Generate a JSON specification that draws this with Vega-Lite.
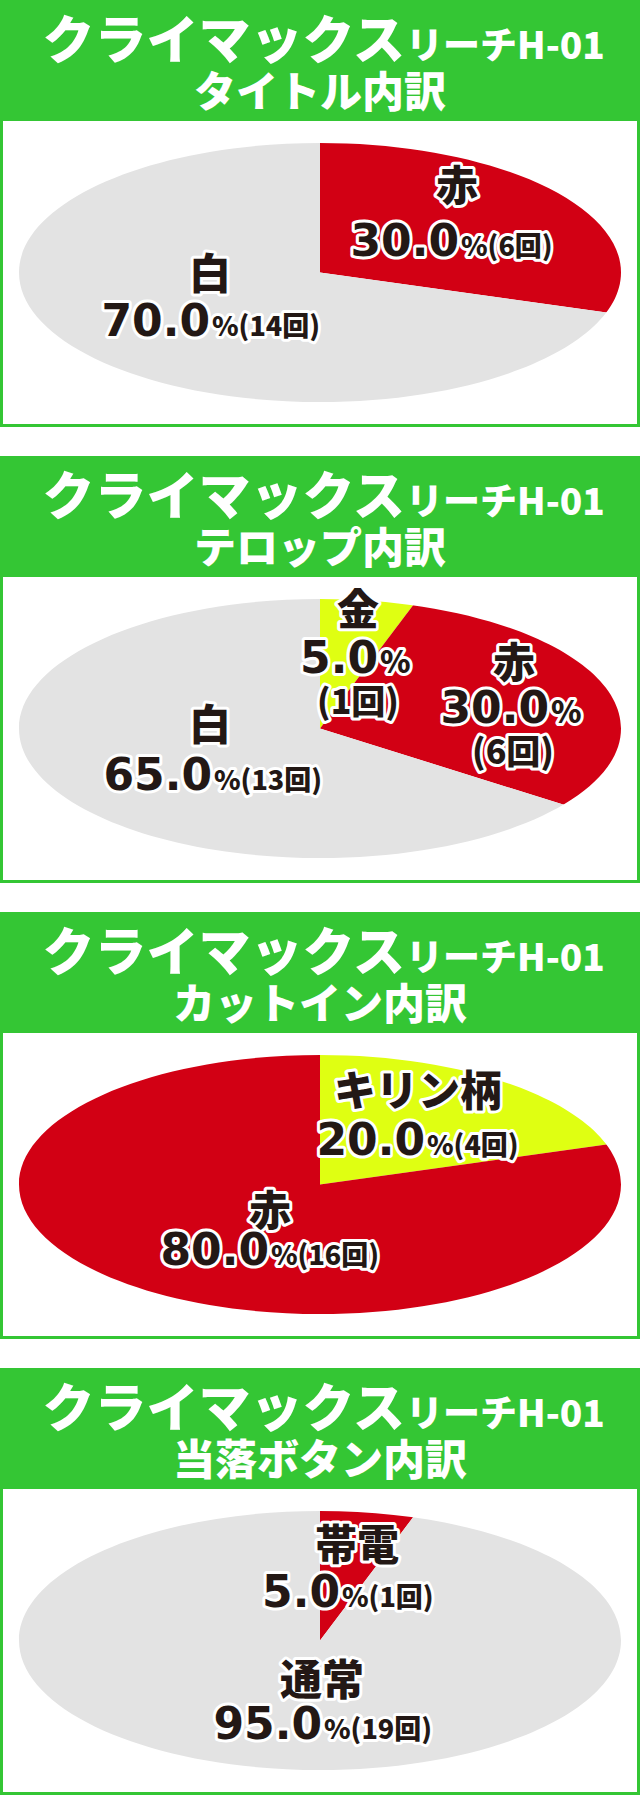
{
  "$schema": "https://vega.github.io/schema/vega-lite/v6.json",
  "padding": 0,
  "background": "white",
  "config": {"view": {"stroke": null}},
  "datasets": {
    "タイトル": [
      {"名前": "赤", "回数": 6, "割合": 30, "後": "%(6回)"},
      {"名前": "白", "回数": 14, "割合": 70, "後": "%(14回)"}
    ],
    "テロップ": [
      {"名前": "金", "回数": 1, "割合": 5, "後": "%", "下": "(1回)"},
      {"名前": "赤", "回数": 6, "割合": 30, "後": "%", "下": "(6回)"},
      {"名前": "白", "回数": 13, "割合": 65, "後": "%(13回)"}
    ],
    "カットイン": [
      {"名前": "キリン柄", "回数": 4, "割合": 20, "後": "%(4回)"},
      {"名前": "赤", "回数": 16, "割合": 80, "後": "%(16回)"}
    ],
    "当落ボタン": [
      {"名前": "帯電", "回数": 1, "割合": 5, "後": "%(1回)"},
      {"名前": "通常", "回数": 19, "割合": 95, "後": "%(19回)"}
    ]
  },
  "spacing": 29,
  "vconcat": [
    {"spacing": 0, "vconcat": [
      {"width": 640, "height": 118, "view": {"fill": "#34c634", "stroke": null},
       "data": {"values": [{"大": "クライマックス", "小": "リーチH-01", "下": "タイトル内訳"}]},
       "layer": [
        {"mark": {"type": "text", "font": "Noto Sans CJK JP", "fontSize": 52, "fontWeight": 900, "align": "right", "baseline": "alphabetic", "fill": "white", "dx": 85, "dy": 0}, "encoding": {"text": {"field": "大"}}},
        {"mark": {"type": "text", "font": "Noto Sans CJK JP", "fontSize": 37, "fontWeight": 900, "align": "left", "baseline": "alphabetic", "fill": "white", "dx": 86, "dy": 0}, "encoding": {"text": {"field": "小"}}},
        {"mark": {"type": "text", "font": "Noto Sans CJK JP", "fontSize": 42, "fontWeight": 900, "align": "center", "baseline": "alphabetic", "fill": "white", "dx": 0, "dy": 48}, "encoding": {"text": {"field": "下"}}}
       ]},
      {"width": 640, "height": 309, "data": {"name": "タイトル"},
       "layer": [
        {"mark": {"type": "arc", "radius": 320, "clip": true},
         "encoding": {
          "theta": {"field": "回数", "type": "quantitative", "stack": true, "scale": {"type": "linear", "domain": [0,1,2,3,4,5,6,7,8,9,10,11,12,13,14,15,16,17,18,19,20], "range": [0,0.6468,1.036,1.2678,1.4319,1.5708,1.7097,1.8738,2.1056,2.4948,3.1416,3.7884,4.1776,4.4094,4.5735,4.7124,4.8513,5.0154,5.2472,5.6364,6.2832]}},
          "color": {"field": "名前", "type": "nominal", "legend": null, "scale": {"domain": ["赤","白","金","キリン柄","帯電","通常"], "range": ["#d20014","#e3e3e3","#dfff12","#dfff12","#d20014","#e3e3e3"]}},
          "order": {"field": "回数", "type": "quantitative", "sort": "ascending"}
         }},
        {"transform": [{"aggregate": [{"op": "count", "as": "n"}]}],
         "layer": [
          {"mark": {"type": "point", "shape": "M-317,-151.5H317V151.5H-317ZM-301,0A301,129.5 0 1 0 301,0A301,129.5 0 1 0 -301,0Z", "size": 4, "filled": true, "fill": "white", "color": "white", "opacity": 1, "strokeWidth": 0}},
          {"mark": {"type": "point", "shape": "M-320,-154.5H320V154.5H-320ZM-317,-151.5V151.5H317V-151.5Z", "size": 4, "filled": true, "fill": "#34c634", "color": "#34c634", "opacity": 1, "strokeWidth": 0}}
         ]},
        {"transform": [{"filter": {"field": "名前", "equal": "白"}}], "layer": [
          {"encoding": {"text": {"field": "名前"}}, "layer": [
            {"mark": {"type": "text", "font": "Noto Sans CJK JP", "fontSize": 42, "fontWeight": 900, "align": "center", "baseline": "alphabetic", "dx": -110, "dy": 16.5, "fill": "white", "stroke": "white", "strokeWidth": 6, "strokeJoin": "round"}},
            {"mark": {"type": "text", "font": "Noto Sans CJK JP", "fontSize": 42, "fontWeight": 900, "align": "center", "baseline": "alphabetic", "dx": -110, "dy": 16.5, "fill": "#231815"}}]},
          {"encoding": {"text": {"field": "割合", "type": "quantitative", "format": ".1f"}}, "layer": [
            {"mark": {"type": "text", "font": "DejaVu Sans", "fontSize": 44, "fontWeight": "bold", "align": "right", "baseline": "alphabetic", "dx": -110, "dy": 63.5, "fill": "white", "stroke": "white", "strokeWidth": 6, "strokeJoin": "round"}},
            {"mark": {"type": "text", "font": "DejaVu Sans", "fontSize": 44, "fontWeight": "bold", "align": "right", "baseline": "alphabetic", "dx": -110, "dy": 63.5, "fill": "#231815"}}]},
          {"encoding": {"text": {"field": "後"}}, "layer": [
            {"mark": {"type": "text", "font": "Noto Sans CJK JP", "fontSize": 27, "fontWeight": 900, "align": "left", "baseline": "alphabetic", "dx": -108, "dy": 63.5, "fill": "white", "stroke": "white", "strokeWidth": 6, "strokeJoin": "round"}},
            {"mark": {"type": "text", "font": "Noto Sans CJK JP", "fontSize": 27, "fontWeight": 900, "align": "left", "baseline": "alphabetic", "dx": -108, "dy": 63.5, "fill": "#231815"}}]}
        ]},
        {"transform": [{"filter": {"field": "名前", "equal": "赤"}}], "layer": [
          {"encoding": {"text": {"field": "名前"}}, "layer": [
            {"mark": {"type": "text", "font": "Noto Sans CJK JP", "fontSize": 42, "fontWeight": 900, "align": "center", "baseline": "alphabetic", "dx": 137, "dy": -71.5, "fill": "white", "stroke": "white", "strokeWidth": 6, "strokeJoin": "round"}},
            {"mark": {"type": "text", "font": "Noto Sans CJK JP", "fontSize": 42, "fontWeight": 900, "align": "center", "baseline": "alphabetic", "dx": 137, "dy": -71.5, "fill": "#231815"}}]},
          {"encoding": {"text": {"field": "割合", "type": "quantitative", "format": ".1f"}}, "layer": [
            {"mark": {"type": "text", "font": "DejaVu Sans", "fontSize": 44, "fontWeight": "bold", "align": "right", "baseline": "alphabetic", "dx": 139, "dy": -16.5, "fill": "white", "stroke": "white", "strokeWidth": 6, "strokeJoin": "round"}},
            {"mark": {"type": "text", "font": "DejaVu Sans", "fontSize": 44, "fontWeight": "bold", "align": "right", "baseline": "alphabetic", "dx": 139, "dy": -16.5, "fill": "#231815"}}]},
          {"encoding": {"text": {"field": "後"}}, "layer": [
            {"mark": {"type": "text", "font": "Noto Sans CJK JP", "fontSize": 27, "fontWeight": 900, "align": "left", "baseline": "alphabetic", "dx": 141, "dy": -16.5, "fill": "white", "stroke": "white", "strokeWidth": 6, "strokeJoin": "round"}},
            {"mark": {"type": "text", "font": "Noto Sans CJK JP", "fontSize": 27, "fontWeight": 900, "align": "left", "baseline": "alphabetic", "dx": 141, "dy": -16.5, "fill": "#231815"}}]}
        ]}
       ]}
    ]},
    {"spacing": 0, "vconcat": [
      {"width": 640, "height": 118, "view": {"fill": "#34c634", "stroke": null},
       "data": {"values": [{"大": "クライマックス", "小": "リーチH-01", "下": "テロップ内訳"}]},
       "layer": [
        {"mark": {"type": "text", "font": "Noto Sans CJK JP", "fontSize": 52, "fontWeight": 900, "align": "right", "baseline": "alphabetic", "fill": "white", "dx": 85, "dy": 0}, "encoding": {"text": {"field": "大"}}},
        {"mark": {"type": "text", "font": "Noto Sans CJK JP", "fontSize": 37, "fontWeight": 900, "align": "left", "baseline": "alphabetic", "fill": "white", "dx": 86, "dy": 0}, "encoding": {"text": {"field": "小"}}},
        {"mark": {"type": "text", "font": "Noto Sans CJK JP", "fontSize": 42, "fontWeight": 900, "align": "center", "baseline": "alphabetic", "fill": "white", "dx": 0, "dy": 48}, "encoding": {"text": {"field": "下"}}}
       ]},
      {"width": 640, "height": 309, "data": {"name": "テロップ"},
       "layer": [
        {"mark": {"type": "arc", "radius": 320, "clip": true},
         "encoding": {
          "theta": {"field": "回数", "type": "quantitative", "stack": true, "scale": {"type": "linear", "domain": [0,1,2,3,4,5,6,7,8,9,10,11,12,13,14,15,16,17,18,19,20], "range": [0,0.6468,1.036,1.2678,1.4319,1.5708,1.7097,1.8738,2.1056,2.4948,3.1416,3.7884,4.1776,4.4094,4.5735,4.7124,4.8513,5.0154,5.2472,5.6364,6.2832]}},
          "color": {"field": "名前", "type": "nominal", "legend": null, "scale": {"domain": ["赤","白","金","キリン柄","帯電","通常"], "range": ["#d20014","#e3e3e3","#dfff12","#dfff12","#d20014","#e3e3e3"]}},
          "order": {"field": "回数", "type": "quantitative", "sort": "ascending"}
         }},
        {"transform": [{"aggregate": [{"op": "count", "as": "n"}]}],
         "layer": [
          {"mark": {"type": "point", "shape": "M-317,-151.5H317V151.5H-317ZM-301,0A301,129.5 0 1 0 301,0A301,129.5 0 1 0 -301,0Z", "size": 4, "filled": true, "fill": "white", "color": "white", "opacity": 1, "strokeWidth": 0}},
          {"mark": {"type": "point", "shape": "M-320,-154.5H320V154.5H-320ZM-317,-151.5V151.5H317V-151.5Z", "size": 4, "filled": true, "fill": "#34c634", "color": "#34c634", "opacity": 1, "strokeWidth": 0}}
         ]},
        {"transform": [{"filter": {"field": "名前", "equal": "金"}}], "layer": [
          {"encoding": {"text": {"field": "名前"}}, "layer": [
            {"mark": {"type": "text", "font": "Noto Sans CJK JP", "fontSize": 42, "fontWeight": 900, "align": "center", "baseline": "alphabetic", "dx": 38, "dy": -103.5, "fill": "white", "stroke": "white", "strokeWidth": 6, "strokeJoin": "round"}},
            {"mark": {"type": "text", "font": "Noto Sans CJK JP", "fontSize": 42, "fontWeight": 900, "align": "center", "baseline": "alphabetic", "dx": 38, "dy": -103.5, "fill": "#231815"}}]},
          {"encoding": {"text": {"field": "割合", "type": "quantitative", "format": ".1f"}}, "layer": [
            {"mark": {"type": "text", "font": "DejaVu Sans", "fontSize": 44, "fontWeight": "bold", "align": "right", "baseline": "alphabetic", "dx": 58, "dy": -55.5, "fill": "white", "stroke": "white", "strokeWidth": 6, "strokeJoin": "round"}},
            {"mark": {"type": "text", "font": "DejaVu Sans", "fontSize": 44, "fontWeight": "bold", "align": "right", "baseline": "alphabetic", "dx": 58, "dy": -55.5, "fill": "#231815"}}]},
          {"encoding": {"text": {"field": "後"}}, "layer": [
            {"mark": {"type": "text", "font": "Noto Sans CJK JP", "fontSize": 31, "fontWeight": 900, "align": "left", "baseline": "alphabetic", "dx": 60, "dy": -55.5, "fill": "white", "stroke": "white", "strokeWidth": 6, "strokeJoin": "round"}},
            {"mark": {"type": "text", "font": "Noto Sans CJK JP", "fontSize": 31, "fontWeight": 900, "align": "left", "baseline": "alphabetic", "dx": 60, "dy": -55.5, "fill": "#231815"}}]},
          {"encoding": {"text": {"field": "下"}}, "layer": [
            {"mark": {"type": "text", "font": "Noto Sans CJK JP", "fontSize": 34, "fontWeight": 900, "align": "center", "baseline": "alphabetic", "dx": 38, "dy": -14.5, "fill": "white", "stroke": "white", "strokeWidth": 6, "strokeJoin": "round"}},
            {"mark": {"type": "text", "font": "Noto Sans CJK JP", "fontSize": 34, "fontWeight": 900, "align": "center", "baseline": "alphabetic", "dx": 38, "dy": -14.5, "fill": "#231815"}}]}
        ]},
        {"transform": [{"filter": {"field": "名前", "equal": "赤"}}], "layer": [
          {"encoding": {"text": {"field": "名前"}}, "layer": [
            {"mark": {"type": "text", "font": "Noto Sans CJK JP", "fontSize": 42, "fontWeight": 900, "align": "center", "baseline": "alphabetic", "dx": 194, "dy": -50.5, "fill": "white", "stroke": "white", "strokeWidth": 6, "strokeJoin": "round"}},
            {"mark": {"type": "text", "font": "Noto Sans CJK JP", "fontSize": 42, "fontWeight": 900, "align": "center", "baseline": "alphabetic", "dx": 194, "dy": -50.5, "fill": "#231815"}}]},
          {"encoding": {"text": {"field": "割合", "type": "quantitative", "format": ".1f"}}, "layer": [
            {"mark": {"type": "text", "font": "DejaVu Sans", "fontSize": 44, "fontWeight": "bold", "align": "right", "baseline": "alphabetic", "dx": 229, "dy": -5.5, "fill": "white", "stroke": "white", "strokeWidth": 6, "strokeJoin": "round"}},
            {"mark": {"type": "text", "font": "DejaVu Sans", "fontSize": 44, "fontWeight": "bold", "align": "right", "baseline": "alphabetic", "dx": 229, "dy": -5.5, "fill": "#231815"}}]},
          {"encoding": {"text": {"field": "後"}}, "layer": [
            {"mark": {"type": "text", "font": "Noto Sans CJK JP", "fontSize": 31, "fontWeight": 900, "align": "left", "baseline": "alphabetic", "dx": 231, "dy": -5.5, "fill": "white", "stroke": "white", "strokeWidth": 6, "strokeJoin": "round"}},
            {"mark": {"type": "text", "font": "Noto Sans CJK JP", "fontSize": 31, "fontWeight": 900, "align": "left", "baseline": "alphabetic", "dx": 231, "dy": -5.5, "fill": "#231815"}}]},
          {"encoding": {"text": {"field": "下"}}, "layer": [
            {"mark": {"type": "text", "font": "Noto Sans CJK JP", "fontSize": 34, "fontWeight": 900, "align": "center", "baseline": "alphabetic", "dx": 193, "dy": 35.5, "fill": "white", "stroke": "white", "strokeWidth": 6, "strokeJoin": "round"}},
            {"mark": {"type": "text", "font": "Noto Sans CJK JP", "fontSize": 34, "fontWeight": 900, "align": "center", "baseline": "alphabetic", "dx": 193, "dy": 35.5, "fill": "#231815"}}]}
        ]},
        {"transform": [{"filter": {"field": "名前", "equal": "白"}}], "layer": [
          {"encoding": {"text": {"field": "名前"}}, "layer": [
            {"mark": {"type": "text", "font": "Noto Sans CJK JP", "fontSize": 42, "fontWeight": 900, "align": "center", "baseline": "alphabetic", "dx": -110, "dy": 11.5, "fill": "white", "stroke": "white", "strokeWidth": 6, "strokeJoin": "round"}},
            {"mark": {"type": "text", "font": "Noto Sans CJK JP", "fontSize": 42, "fontWeight": 900, "align": "center", "baseline": "alphabetic", "dx": -110, "dy": 11.5, "fill": "#231815"}}]},
          {"encoding": {"text": {"field": "割合", "type": "quantitative", "format": ".1f"}}, "layer": [
            {"mark": {"type": "text", "font": "DejaVu Sans", "fontSize": 44, "fontWeight": "bold", "align": "right", "baseline": "alphabetic", "dx": -108, "dy": 61.5, "fill": "white", "stroke": "white", "strokeWidth": 6, "strokeJoin": "round"}},
            {"mark": {"type": "text", "font": "DejaVu Sans", "fontSize": 44, "fontWeight": "bold", "align": "right", "baseline": "alphabetic", "dx": -108, "dy": 61.5, "fill": "#231815"}}]},
          {"encoding": {"text": {"field": "後"}}, "layer": [
            {"mark": {"type": "text", "font": "Noto Sans CJK JP", "fontSize": 27, "fontWeight": 900, "align": "left", "baseline": "alphabetic", "dx": -106, "dy": 61.5, "fill": "white", "stroke": "white", "strokeWidth": 6, "strokeJoin": "round"}},
            {"mark": {"type": "text", "font": "Noto Sans CJK JP", "fontSize": 27, "fontWeight": 900, "align": "left", "baseline": "alphabetic", "dx": -106, "dy": 61.5, "fill": "#231815"}}]}
        ]}
       ]}
    ]},
    {"spacing": 0, "vconcat": [
      {"width": 640, "height": 118, "view": {"fill": "#34c634", "stroke": null},
       "data": {"values": [{"大": "クライマックス", "小": "リーチH-01", "下": "カットイン内訳"}]},
       "layer": [
        {"mark": {"type": "text", "font": "Noto Sans CJK JP", "fontSize": 52, "fontWeight": 900, "align": "right", "baseline": "alphabetic", "fill": "white", "dx": 85, "dy": 0}, "encoding": {"text": {"field": "大"}}},
        {"mark": {"type": "text", "font": "Noto Sans CJK JP", "fontSize": 37, "fontWeight": 900, "align": "left", "baseline": "alphabetic", "fill": "white", "dx": 86, "dy": 0}, "encoding": {"text": {"field": "小"}}},
        {"mark": {"type": "text", "font": "Noto Sans CJK JP", "fontSize": 42, "fontWeight": 900, "align": "center", "baseline": "alphabetic", "fill": "white", "dx": 0, "dy": 48}, "encoding": {"text": {"field": "下"}}}
       ]},
      {"width": 640, "height": 309, "data": {"name": "カットイン"},
       "layer": [
        {"mark": {"type": "arc", "radius": 320, "clip": true},
         "encoding": {
          "theta": {"field": "回数", "type": "quantitative", "stack": true, "scale": {"type": "linear", "domain": [0,1,2,3,4,5,6,7,8,9,10,11,12,13,14,15,16,17,18,19,20], "range": [0,0.6468,1.036,1.2678,1.4319,1.5708,1.7097,1.8738,2.1056,2.4948,3.1416,3.7884,4.1776,4.4094,4.5735,4.7124,4.8513,5.0154,5.2472,5.6364,6.2832]}},
          "color": {"field": "名前", "type": "nominal", "legend": null, "scale": {"domain": ["赤","白","金","キリン柄","帯電","通常"], "range": ["#d20014","#e3e3e3","#dfff12","#dfff12","#d20014","#e3e3e3"]}},
          "order": {"field": "回数", "type": "quantitative", "sort": "ascending"}
         }},
        {"transform": [{"aggregate": [{"op": "count", "as": "n"}]}],
         "layer": [
          {"mark": {"type": "point", "shape": "M-317,-151.5H317V151.5H-317ZM-301,0A301,129.5 0 1 0 301,0A301,129.5 0 1 0 -301,0Z", "size": 4, "filled": true, "fill": "white", "color": "white", "opacity": 1, "strokeWidth": 0}},
          {"mark": {"type": "point", "shape": "M-320,-154.5H320V154.5H-320ZM-317,-151.5V151.5H317V-151.5Z", "size": 4, "filled": true, "fill": "#34c634", "color": "#34c634", "opacity": 1, "strokeWidth": 0}}
         ]},
        {"transform": [{"filter": {"field": "名前", "equal": "キリン柄"}}], "layer": [
          {"encoding": {"text": {"field": "名前"}}, "layer": [
            {"mark": {"type": "text", "font": "Noto Sans CJK JP", "fontSize": 42, "fontWeight": 900, "align": "center", "baseline": "alphabetic", "dx": 98, "dy": -78.5, "fill": "white", "stroke": "white", "strokeWidth": 6, "strokeJoin": "round"}},
            {"mark": {"type": "text", "font": "Noto Sans CJK JP", "fontSize": 42, "fontWeight": 900, "align": "center", "baseline": "alphabetic", "dx": 98, "dy": -78.5, "fill": "#231815"}}]},
          {"encoding": {"text": {"field": "割合", "type": "quantitative", "format": ".1f"}}, "layer": [
            {"mark": {"type": "text", "font": "DejaVu Sans", "fontSize": 44, "fontWeight": "bold", "align": "right", "baseline": "alphabetic", "dx": 105, "dy": -29.5, "fill": "white", "stroke": "white", "strokeWidth": 6, "strokeJoin": "round"}},
            {"mark": {"type": "text", "font": "DejaVu Sans", "fontSize": 44, "fontWeight": "bold", "align": "right", "baseline": "alphabetic", "dx": 105, "dy": -29.5, "fill": "#231815"}}]},
          {"encoding": {"text": {"field": "後"}}, "layer": [
            {"mark": {"type": "text", "font": "Noto Sans CJK JP", "fontSize": 27, "fontWeight": 900, "align": "left", "baseline": "alphabetic", "dx": 107, "dy": -29.5, "fill": "white", "stroke": "white", "strokeWidth": 6, "strokeJoin": "round"}},
            {"mark": {"type": "text", "font": "Noto Sans CJK JP", "fontSize": 27, "fontWeight": 900, "align": "left", "baseline": "alphabetic", "dx": 107, "dy": -29.5, "fill": "#231815"}}]}
        ]},
        {"transform": [{"filter": {"field": "名前", "equal": "赤"}}], "layer": [
          {"encoding": {"text": {"field": "名前"}}, "layer": [
            {"mark": {"type": "text", "font": "Noto Sans CJK JP", "fontSize": 42, "fontWeight": 900, "align": "center", "baseline": "alphabetic", "dx": -50, "dy": 41.5, "fill": "white", "stroke": "white", "strokeWidth": 6, "strokeJoin": "round"}},
            {"mark": {"type": "text", "font": "Noto Sans CJK JP", "fontSize": 42, "fontWeight": 900, "align": "center", "baseline": "alphabetic", "dx": -50, "dy": 41.5, "fill": "#231815"}}]},
          {"encoding": {"text": {"field": "割合", "type": "quantitative", "format": ".1f"}}, "layer": [
            {"mark": {"type": "text", "font": "DejaVu Sans", "fontSize": 44, "fontWeight": "bold", "align": "right", "baseline": "alphabetic", "dx": -51, "dy": 80.5, "fill": "white", "stroke": "white", "strokeWidth": 6, "strokeJoin": "round"}},
            {"mark": {"type": "text", "font": "DejaVu Sans", "fontSize": 44, "fontWeight": "bold", "align": "right", "baseline": "alphabetic", "dx": -51, "dy": 80.5, "fill": "#231815"}}]},
          {"encoding": {"text": {"field": "後"}}, "layer": [
            {"mark": {"type": "text", "font": "Noto Sans CJK JP", "fontSize": 27, "fontWeight": 900, "align": "left", "baseline": "alphabetic", "dx": -49, "dy": 80.5, "fill": "white", "stroke": "white", "strokeWidth": 6, "strokeJoin": "round"}},
            {"mark": {"type": "text", "font": "Noto Sans CJK JP", "fontSize": 27, "fontWeight": 900, "align": "left", "baseline": "alphabetic", "dx": -49, "dy": 80.5, "fill": "#231815"}}]}
        ]}
       ]}
    ]},
    {"spacing": 0, "vconcat": [
      {"width": 640, "height": 118, "view": {"fill": "#34c634", "stroke": null},
       "data": {"values": [{"大": "クライマックス", "小": "リーチH-01", "下": "当落ボタン内訳"}]},
       "layer": [
        {"mark": {"type": "text", "font": "Noto Sans CJK JP", "fontSize": 52, "fontWeight": 900, "align": "right", "baseline": "alphabetic", "fill": "white", "dx": 85, "dy": 0}, "encoding": {"text": {"field": "大"}}},
        {"mark": {"type": "text", "font": "Noto Sans CJK JP", "fontSize": 37, "fontWeight": 900, "align": "left", "baseline": "alphabetic", "fill": "white", "dx": 86, "dy": 0}, "encoding": {"text": {"field": "小"}}},
        {"mark": {"type": "text", "font": "Noto Sans CJK JP", "fontSize": 42, "fontWeight": 900, "align": "center", "baseline": "alphabetic", "fill": "white", "dx": 0, "dy": 48}, "encoding": {"text": {"field": "下"}}}
       ]},
      {"width": 640, "height": 309, "data": {"name": "当落ボタン"},
       "layer": [
        {"mark": {"type": "arc", "radius": 320, "clip": true},
         "encoding": {
          "theta": {"field": "回数", "type": "quantitative", "stack": true, "scale": {"type": "linear", "domain": [0,1,2,3,4,5,6,7,8,9,10,11,12,13,14,15,16,17,18,19,20], "range": [0,0.6468,1.036,1.2678,1.4319,1.5708,1.7097,1.8738,2.1056,2.4948,3.1416,3.7884,4.1776,4.4094,4.5735,4.7124,4.8513,5.0154,5.2472,5.6364,6.2832]}},
          "color": {"field": "名前", "type": "nominal", "legend": null, "scale": {"domain": ["赤","白","金","キリン柄","帯電","通常"], "range": ["#d20014","#e3e3e3","#dfff12","#dfff12","#d20014","#e3e3e3"]}},
          "order": {"field": "回数", "type": "quantitative", "sort": "ascending"}
         }},
        {"transform": [{"aggregate": [{"op": "count", "as": "n"}]}],
         "layer": [
          {"mark": {"type": "point", "shape": "M-317,-151.5H317V151.5H-317ZM-301,0A301,129.5 0 1 0 301,0A301,129.5 0 1 0 -301,0Z", "size": 4, "filled": true, "fill": "white", "color": "white", "opacity": 1, "strokeWidth": 0}},
          {"mark": {"type": "point", "shape": "M-320,-154.5H320V154.5H-320ZM-317,-151.5V151.5H317V-151.5Z", "size": 4, "filled": true, "fill": "#34c634", "color": "#34c634", "opacity": 1, "strokeWidth": 0}}
         ]},
        {"transform": [{"filter": {"field": "名前", "equal": "帯電"}}], "layer": [
          {"encoding": {"text": {"field": "名前"}}, "layer": [
            {"mark": {"type": "text", "font": "Noto Sans CJK JP", "fontSize": 42, "fontWeight": 900, "align": "center", "baseline": "alphabetic", "dx": 37, "dy": -80.5, "fill": "white", "stroke": "white", "strokeWidth": 6, "strokeJoin": "round"}},
            {"mark": {"type": "text", "font": "Noto Sans CJK JP", "fontSize": 42, "fontWeight": 900, "align": "center", "baseline": "alphabetic", "dx": 37, "dy": -80.5, "fill": "#231815"}}]},
          {"encoding": {"text": {"field": "割合", "type": "quantitative", "format": ".1f"}}, "layer": [
            {"mark": {"type": "text", "font": "DejaVu Sans", "fontSize": 44, "fontWeight": "bold", "align": "right", "baseline": "alphabetic", "dx": 20, "dy": -33.5, "fill": "white", "stroke": "white", "strokeWidth": 6, "strokeJoin": "round"}},
            {"mark": {"type": "text", "font": "DejaVu Sans", "fontSize": 44, "fontWeight": "bold", "align": "right", "baseline": "alphabetic", "dx": 20, "dy": -33.5, "fill": "#231815"}}]},
          {"encoding": {"text": {"field": "後"}}, "layer": [
            {"mark": {"type": "text", "font": "Noto Sans CJK JP", "fontSize": 27, "fontWeight": 900, "align": "left", "baseline": "alphabetic", "dx": 22, "dy": -33.5, "fill": "white", "stroke": "white", "strokeWidth": 6, "strokeJoin": "round"}},
            {"mark": {"type": "text", "font": "Noto Sans CJK JP", "fontSize": 27, "fontWeight": 900, "align": "left", "baseline": "alphabetic", "dx": 22, "dy": -33.5, "fill": "#231815"}}]}
        ]},
        {"transform": [{"filter": {"field": "名前", "equal": "通常"}}], "layer": [
          {"encoding": {"text": {"field": "名前"}}, "layer": [
            {"mark": {"type": "text", "font": "Noto Sans CJK JP", "fontSize": 42, "fontWeight": 900, "align": "center", "baseline": "alphabetic", "dx": 2, "dy": 54.5, "fill": "white", "stroke": "white", "strokeWidth": 6, "strokeJoin": "round"}},
            {"mark": {"type": "text", "font": "Noto Sans CJK JP", "fontSize": 42, "fontWeight": 900, "align": "center", "baseline": "alphabetic", "dx": 2, "dy": 54.5, "fill": "#231815"}}]},
          {"encoding": {"text": {"field": "割合", "type": "quantitative", "format": ".1f"}}, "layer": [
            {"mark": {"type": "text", "font": "DejaVu Sans", "fontSize": 44, "fontWeight": "bold", "align": "right", "baseline": "alphabetic", "dx": 2, "dy": 98.5, "fill": "white", "stroke": "white", "strokeWidth": 6, "strokeJoin": "round"}},
            {"mark": {"type": "text", "font": "DejaVu Sans", "fontSize": 44, "fontWeight": "bold", "align": "right", "baseline": "alphabetic", "dx": 2, "dy": 98.5, "fill": "#231815"}}]},
          {"encoding": {"text": {"field": "後"}}, "layer": [
            {"mark": {"type": "text", "font": "Noto Sans CJK JP", "fontSize": 27, "fontWeight": 900, "align": "left", "baseline": "alphabetic", "dx": 4, "dy": 98.5, "fill": "white", "stroke": "white", "strokeWidth": 6, "strokeJoin": "round"}},
            {"mark": {"type": "text", "font": "Noto Sans CJK JP", "fontSize": 27, "fontWeight": 900, "align": "left", "baseline": "alphabetic", "dx": 4, "dy": 98.5, "fill": "#231815"}}]}
        ]}
       ]}
    ]}
  ]
}
